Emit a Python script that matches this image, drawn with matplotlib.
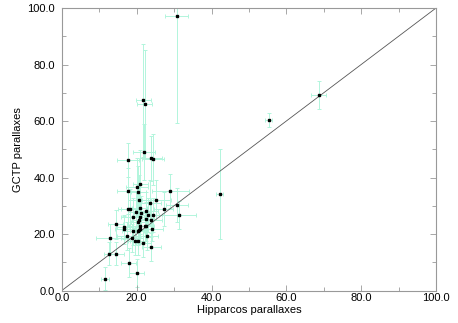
import numpy as np
import matplotlib
matplotlib.use('Agg')
import matplotlib.pyplot as plt
from matplotlib.ticker import MultipleLocator, FormatStrFormatter

plt.rcParams['font.family'] = ['Liberation Sans', 'DejaVu Sans']

# Hipparcos vs GCTP parallaxes (mas)
hip = np.array([68.6, 55.3, 42.2, 30.7, 21.7, 22.2, 21.9, 23.8, 24.3, 17.7,
                29.0, 20.9, 20.1, 17.7, 20.4, 20.7, 25.3, 23.6, 30.8, 27.2,
                31.4, 17.7, 18.1, 20.8, 19.7, 22.6, 21.2, 23.1, 24.3, 20.8,
                18.9, 20.7, 22.5, 23.8, 20.4, 14.4, 16.7, 16.7, 20.9, 22.6,
                22.1, 19.0, 20.7, 20.3, 21.0, 24.1, 22.8, 13.0, 17.3, 18.8,
                19.6, 20.3, 21.8, 23.9, 12.7, 14.5, 17.9, 20.0, 11.5])
gctp = np.array([69.3, 60.3, 34.2, 97.2, 67.4, 66.0, 49.0, 46.8, 46.5, 46.1,
                 35.3, 37.8, 36.8, 35.2, 35.0, 32.0, 32.0, 31.1, 30.2, 28.7,
                 26.6, 28.8, 28.8, 29.3, 27.7, 28.0, 27.3, 26.6, 26.8, 25.9,
                 25.9, 25.0, 25.3, 25.1, 24.1, 23.4, 22.4, 21.6, 22.9, 22.7,
                 22.7, 21.2, 21.4, 21.2, 21.7, 21.7, 19.3, 18.5, 19.2, 18.6,
                 17.7, 17.4, 16.7, 15.5, 13.0, 13.0, 9.9, 6.3, 4.2])
hip_err = np.array([2.0, 1.0, 1.0, 3.0, 2.0, 2.0, 3.0, 3.0, 3.0, 3.0,
                    5.0, 2.0, 3.0, 3.0, 2.0, 3.0, 4.0, 3.0, 3.0, 2.5,
                    4.5, 2.0, 3.0, 2.0, 2.0, 3.0, 2.0, 3.0, 3.0, 2.0,
                    3.0, 2.0, 2.0, 3.0, 2.0, 2.0, 2.0, 2.5, 3.0, 2.0,
                    2.0, 3.0, 2.0, 2.0, 2.0, 3.0, 3.0, 4.0, 2.5, 3.0,
                    2.0, 2.0, 2.0, 2.5, 1.5, 2.0, 2.0, 2.0, 1.0])
gctp_err = np.array([5.0, 2.5, 16.0, 38.0, 20.0, 19.0, 10.0, 8.0, 9.0, 6.0,
                     6.0, 12.0, 10.0, 8.0, 9.0, 9.0, 7.0, 8.0, 6.0, 6.0,
                     5.0, 6.0, 7.0, 8.0, 7.0, 7.0, 6.0, 6.0, 6.0, 6.0,
                     7.0, 6.0, 6.0, 6.0, 6.0, 5.0, 4.0, 5.0, 6.0, 5.0,
                     5.0, 5.0, 5.0, 5.0, 5.0, 4.0, 5.0, 5.0, 5.0, 5.0,
                     5.0, 5.0, 5.0, 5.0, 4.0, 4.0, 5.0, 5.0, 4.0])

fig = plt.figure(figsize=(4.58, 3.23), dpi=100)
ax = fig.add_axes([0.135, 0.1006, 0.817, 0.8746])

ax.plot([0, 100], [0, 100], color='#555555', lw=0.6, zorder=2)
ax.errorbar(hip, gctp, xerr=hip_err, yerr=gctp_err, fmt='none',
            ecolor='#b2f5dc', elinewidth=0.7, capsize=1.5, capthick=0.7, zorder=1)
ax.plot(hip, gctp, 's', color='black', ms=2.0, zorder=3)

ax.set_xlim(0, 100)
ax.set_ylim(0, 100)
for a in (ax.xaxis, ax.yaxis):
    a.set_major_locator(MultipleLocator(20))
    a.set_minor_locator(MultipleLocator(10))
    a.set_major_formatter(FormatStrFormatter('%.1f'))
ax.tick_params(which='both', direction='in', top=True, right=True,
               color='#999999', labelsize=8)
ax.tick_params(axis='x', pad=2)
ax.tick_params(axis='y', pad=5)
ax.tick_params(which='major', length=4, width=0.6)
ax.tick_params(which='minor', length=3, width=0.6)
for s in ax.spines.values():
    s.set_color('#999999')
    s.set_linewidth(0.8)

ax.set_xlabel('Hipparcos parallaxes', fontsize=8, labelpad=1)
ax.set_ylabel('GCTP parallaxes', fontsize=8, labelpad=3)

fig.savefig('out.png', dpi=100)
